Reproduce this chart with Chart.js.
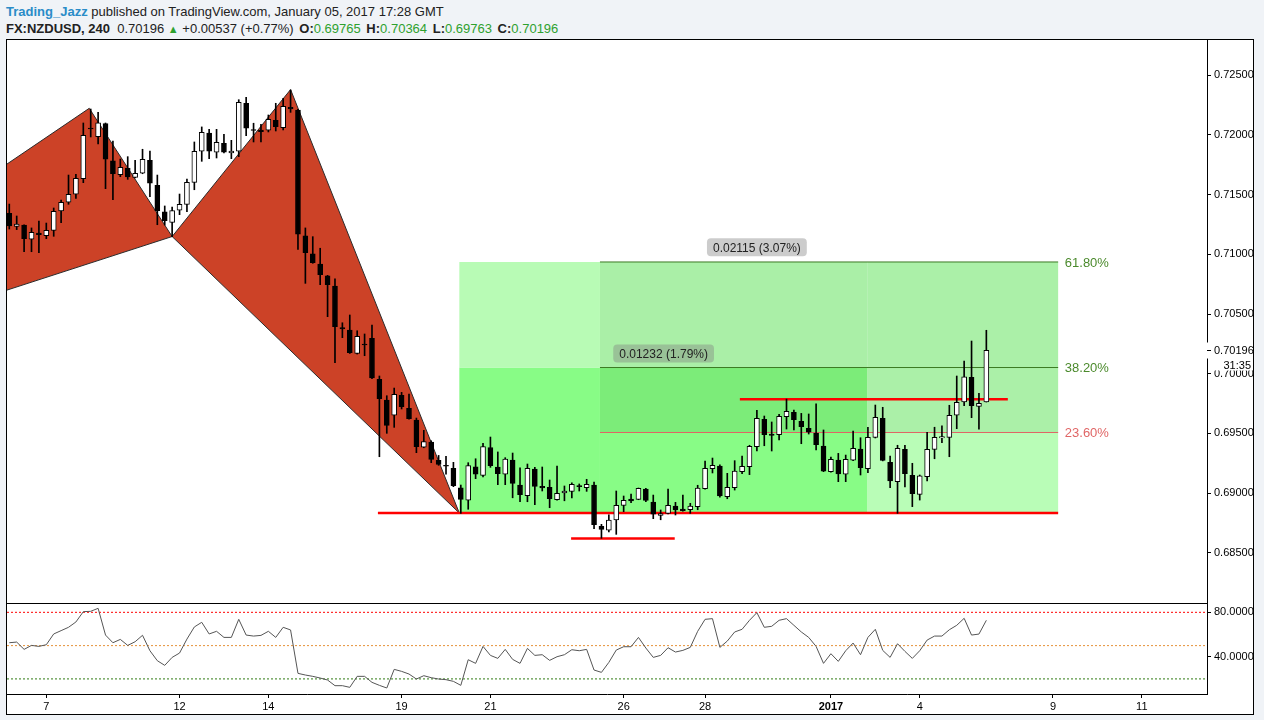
<!DOCTYPE html>
<html>
<head>
<meta charset="utf-8">
<title>FX:NZDUSD, 240</title>
<script src="https://cdn.jsdelivr.net/npm/chart.js@4.4.0/dist/chart.umd.min.js"></script>
<style>
    body {
        margin: 0;
        width: 1264px;
        height: 720px;
        overflow: hidden;
        background: #f0f3f7;
        font-family: 'Liberation Sans', Arial, sans-serif;
    }
    .head-line {
        position: absolute;
        left: 6px;
        font-size: 13px;
        color: #222;
        white-space: nowrap;
    }
    #headTop { top: 4px; }
    #headInfo { top: 21px; }
    .user { color: #2a8cc8; font-weight: bold; }
    .up { color: #2ea12e; }
    .tri { font-size: 11px; }
    .ohlc { margin-left: 2px; }
    #frame {
        position: absolute;
        left: 6px;
        top: 39px;
        width: 1246px;
        height: 674px;
        border: 1px solid #000;
        background: #fff;
    }
</style>
</head>
<body>
<div class="head-line" id="headTop"><span class="user">Trading_Jazz</span> published on TradingView.com, January 05, 2017 17:28 GMT</div>
<div class="head-line" id="headInfo"><b>FX:NZDUSD, 240</b>&nbsp; 0.70196 <span class="up tri">&#9650;</span> +0.00537 (+0.77%) <b class="ohlc">O:</b><span class="up">0.69765</span> <b class="ohlc">H:</b><span class="up">0.70364</span> <b class="ohlc">L:</b><span class="up">0.69763</span> <b class="ohlc">C:</b><span class="up">0.70196</span></div>
<div id="frame"><canvas id="priceChart" width="1246" height="674"></canvas></div>

<script>
// 4h bars, first visible bar sits 5 bars before the "7" (Dec 7) label
const FIRST_BAR = -5;

const openPrices = [
    0.71343, 0.71234, 0.71245, 0.71126, 0.71179, 0.71156, 0.71201, 0.71363, 0.71436, 0.71503,
    0.71633, 0.72058, 0.71985, 0.72094, 0.71784, 0.71667, 0.71723, 0.71645, 0.71679, 0.71788,
    0.71578, 0.71355, 0.71268, 0.71369, 0.71419, 0.71603, 0.71863, 0.72016, 0.71855, 0.71930,
    0.71849, 0.71865, 0.72265, 0.72041, 0.72041, 0.72039, 0.72123, 0.72061, 0.72231, 0.72209,
    0.71154, 0.71005, 0.70919, 0.70819, 0.70735, 0.70386, 0.70366, 0.70171, 0.70249, 0.70297,
    0.69953, 0.69780, 0.69654, 0.69819, 0.69711, 0.69612, 0.69384, 0.69428, 0.69275, 0.69233,
    0.69208, 0.69045, 0.68942, 0.69221, 0.69149, 0.69382, 0.69219, 0.69158, 0.69277, 0.69068,
    0.68979, 0.69202, 0.69057, 0.69049, 0.68945, 0.69001, 0.69015, 0.69062, 0.69045, 0.69068,
    0.68722, 0.68689, 0.68775, 0.68898, 0.68951, 0.68948, 0.69035, 0.68926, 0.68814, 0.68831,
    0.68892, 0.68867, 0.68861, 0.68887, 0.69037, 0.69205, 0.69227, 0.68970, 0.69045, 0.69179,
    0.69221, 0.69389, 0.69618, 0.69495, 0.69489, 0.69640, 0.69677, 0.69602, 0.69543, 0.69504,
    0.69395, 0.69179, 0.69277, 0.69158, 0.69277, 0.69370, 0.69205, 0.69467, 0.69627, 0.69258,
    0.69096, 0.69367, 0.69149, 0.68990, 0.69138, 0.69367, 0.69462, 0.69467, 0.69652, 0.69763,
    0.69970, 0.69727, 0.69765
];
const highPrices = [
    0.71421, 0.71321, 0.71248, 0.71221, 0.71279, 0.71262, 0.71388, 0.71455, 0.71664, 0.71670,
    0.72100, 0.72217, 0.72189, 0.72100, 0.71949, 0.71798, 0.71818, 0.71788, 0.71880, 0.71865,
    0.71664, 0.71405, 0.71396, 0.71505, 0.71631, 0.71941, 0.72067, 0.72047, 0.72047, 0.72005,
    0.71955, 0.72295, 0.72315, 0.72098, 0.72089, 0.72167, 0.72265, 0.72307, 0.72376, 0.72215,
    0.71221, 0.71148, 0.71051, 0.70824, 0.70794, 0.70427, 0.70492, 0.70360, 0.70333, 0.70408,
    0.69981, 0.69816, 0.69880, 0.69844, 0.69830, 0.69629, 0.69526, 0.69439, 0.69316, 0.69308,
    0.69258, 0.69068, 0.69255, 0.69288, 0.69417, 0.69470, 0.69345, 0.69297, 0.69336, 0.69213,
    0.69244, 0.69216, 0.69219, 0.69110, 0.69227, 0.69060, 0.69087, 0.69077, 0.69116, 0.69093,
    0.68739, 0.68819, 0.69018, 0.68976, 0.68993, 0.69043, 0.69040, 0.68984, 0.68859, 0.69035,
    0.68923, 0.68984, 0.68915, 0.69066, 0.69269, 0.69294, 0.69238, 0.69166, 0.69272, 0.69311,
    0.69401, 0.69694, 0.69646, 0.69596, 0.69660, 0.69788, 0.69696, 0.69668, 0.69663, 0.69747,
    0.69529, 0.69303, 0.69333, 0.69319, 0.69520, 0.69464, 0.69552, 0.69738, 0.69719, 0.69311,
    0.69401, 0.69401, 0.69250, 0.69152, 0.69510, 0.69552, 0.69563, 0.69736, 0.69981, 0.70107,
    0.70274, 0.69836, 0.70364
];
const lowPrices = [
    0.71212, 0.71207, 0.71022, 0.71022, 0.71014, 0.71131, 0.71151, 0.71265, 0.71419, 0.71469,
    0.71600, 0.71983, 0.71924, 0.71550, 0.71457, 0.71650, 0.71628, 0.71640, 0.71675, 0.71483,
    0.71248, 0.71245, 0.71148, 0.71332, 0.71357, 0.71541, 0.71779, 0.71801, 0.71807, 0.71849,
    0.71801, 0.71818, 0.71994, 0.71941, 0.71941, 0.72025, 0.72033, 0.72041, 0.72189, 0.71042,
    0.70757, 0.70925, 0.70746, 0.70478, 0.70092, 0.70302, 0.70170, 0.70165, 0.70151, 0.69958,
    0.69305, 0.69501, 0.69551, 0.69705, 0.69620, 0.69339, 0.69380, 0.69255, 0.69233, 0.69158,
    0.69054, 0.68831, 0.68865, 0.69121, 0.69135, 0.69216, 0.69071, 0.69071, 0.68961, 0.68928,
    0.68928, 0.68903, 0.69018, 0.68878, 0.68942, 0.68936, 0.68961, 0.69018, 0.69015, 0.68702,
    0.68622, 0.68675, 0.68655, 0.68845, 0.68920, 0.68945, 0.68928, 0.68786, 0.68777, 0.68825,
    0.68817, 0.68850, 0.68831, 0.68861, 0.69033, 0.69169, 0.68967, 0.68953, 0.69026, 0.69163,
    0.69155, 0.69353, 0.69397, 0.69353, 0.69445, 0.69537, 0.69529, 0.69414, 0.69495, 0.69361,
    0.69180, 0.69175, 0.69096, 0.69096, 0.69272, 0.69152, 0.69171, 0.69462, 0.69270, 0.69045,
    0.68831, 0.69052, 0.68887, 0.68942, 0.69102, 0.69288, 0.69422, 0.69305, 0.69540, 0.69732,
    0.69632, 0.69535, 0.69763
];
const closePrices = [
    0.71239, 0.71253, 0.71131, 0.71185, 0.71165, 0.71201, 0.71360, 0.71436, 0.71503, 0.71636,
    0.71996, 0.72050, 0.72102, 0.71796, 0.71675, 0.71729, 0.71648, 0.71679, 0.71796, 0.71595,
    0.71366, 0.71282, 0.71366, 0.71419, 0.71603, 0.71863, 0.72022, 0.71863, 0.71938, 0.71855,
    0.71865, 0.72273, 0.72056, 0.72037, 0.72027, 0.72131, 0.72069, 0.72240, 0.72217, 0.71168,
    0.71014, 0.70930, 0.70830, 0.70746, 0.70394, 0.70375, 0.70176, 0.70313, 0.70241, 0.69964,
    0.69791, 0.69568, 0.69828, 0.69724, 0.69623, 0.69389, 0.69431, 0.69283, 0.69241, 0.69225,
    0.69062, 0.68948, 0.69230, 0.69158, 0.69389, 0.69231, 0.69164, 0.69286, 0.69082, 0.68987,
    0.69208, 0.69057, 0.69043, 0.68953, 0.68998, 0.69018, 0.69074, 0.69054, 0.69074, 0.68736,
    0.68697, 0.68775, 0.68898, 0.68940, 0.68934, 0.69040, 0.68940, 0.68823, 0.68828, 0.68898,
    0.68859, 0.68853, 0.68892, 0.69043, 0.69208, 0.69233, 0.68976, 0.69049, 0.69185, 0.69225,
    0.69392, 0.69627, 0.69489, 0.69484, 0.69644, 0.69685, 0.69615, 0.69556, 0.69510, 0.69405,
    0.69185, 0.69283, 0.69160, 0.69283, 0.69375, 0.69213, 0.69467, 0.69635, 0.69275, 0.69102,
    0.69375, 0.69163, 0.68995, 0.69144, 0.69367, 0.69467, 0.69473, 0.69652, 0.69761, 0.69975,
    0.69732, 0.69752, 0.70196
];
const rsiValues = [
    52.6, 53.2, 46.6, 50.2, 49.3, 50.8, 60.5, 63.5, 66.5, 71.3,
    80.6, 80.9, 83.6, 59.5, 52.6, 55.6, 50.2, 53.5, 59.3, 45.4,
    36.4, 32.2, 39.4, 43.3, 55.9, 66.8, 71.0, 60.5, 62.9, 57.4,
    57.4, 73.7, 59.5, 58.6, 59.2, 62.9, 57.4, 66.5, 64.1, 25.0,
    23.5, 22.3, 20.8, 19.0, 13.9, 13.9, 12.4, 22.3, 22.3, 16.9,
    14.2, 11.8, 28.6, 26.8, 24.4, 19.9, 22.9, 21.1, 19.9, 19.3,
    17.8, 14.2, 37.3, 34.0, 49.3, 41.2, 38.5, 46.6, 37.6, 34.0,
    47.5, 41.2, 41.8, 36.7, 40.0, 41.8, 46.3, 45.4, 46.6, 28.0,
    25.9, 34.9, 46.0, 49.0, 49.0, 57.4, 47.8, 39.4, 41.2, 48.1,
    44.2, 45.7, 48.4, 62.9, 73.7, 74.3, 48.4, 54.1, 62.3, 64.7,
    72.8, 79.7, 66.5, 67.4, 72.8, 74.3, 68.3, 62.3, 57.4, 49.3,
    34.0, 42.7, 35.8, 45.4, 52.3, 41.8, 57.4, 64.7, 45.7, 39.4,
    51.7, 44.8, 38.5, 45.4, 55.0, 58.6, 58.6, 64.3, 68.3, 74.6,
    59.5, 60.4, 72.8
];

// x axis day labels (bar index where each trading day starts)
const dayTickBars = [0, 18, 30, 48, 60, 78, 89, 106, 118, 136, 148];
const dayTickLabels = ['7', '12', '14', '19', '21', '26', '28', '2017', '4', '9', '11'];
const priceTicks = [0.685, 0.690, 0.695, 0.700, 0.705, 0.710, 0.715, 0.720, 0.725];
const rsiTicks = [40, 80];
const rsiLevels = [80, 50, 20];

// harmonic pattern points X, A, B, C, D (X lies left of the view)
const patternBars = [-53.5, 5.8, 17, 33, 55.8];
const patternPrices = [0.69732, 0.72223, 0.71149, 0.72380, 0.68833];

// green zones
const zoneFrom = [55.8, 55.8, 74.8, 74.8, 74.8, 110.9, 110.9];
const zoneTo = [74.8, 74.8, 110.9, 110.9, 110.9, 136.7, 136.7];
const zoneLow = [0.70052, 0.68833, 0.70052, 0.69508, 0.68833, 0.69508, 0.68833];
const zoneHigh = [0.70936, 0.70052, 0.70936, 0.70052, 0.69508, 0.70936, 0.69508];

// fib levels
const fibLevels = [0.70936, 0.70052, 0.69508];
const fibLabels = ['61.80%', '38.20%', '23.60%'];
const fibFrom = 74.8;
const fibTo = 136.7;
const fibLabelBar = 137.6;

// red horizontal levels
const levelFrom = [44.8, 70.9, 93.7];
const levelTo = [136.7, 84.9, 129.9];
const levelPrices = [0.68833, 0.68621, 0.69786];

// price range labels
const measureTexts = ['0.02115 (3.07%)', '0.01232 (1.79%)'];
const measureBars = [96.0, 83.4];
const measurePrices = [0.71059, 0.70169];

const lastPrice = 0.70196;
const countdownText = '31:35';

// view range
const X_MIN = -5.31;
const X_MAX = 156.81;
const PRICE_MIN = 0.68080;
const PRICE_MAX = 0.72795;
const RSI_MIN = 6.4;
const RSI_MAX = 88.4;

// styles
const zoneColors = ['#b8fbb5', '#88fc86', '#aaefa7', '#7cec79', '#88fc86', '#abf0a8', '#b9fdb7'];
const fibColors = ['#3b7a22', '#3b7a22', '#e06666'];
const rsiLevelColors = ['#ff0000', '#e69138', '#2f7a12'];
const AXIS_FONT = { family: "'Liberation Sans', Arial, sans-serif", size: 11 };

const barIndex = openPrices.map((_, i) => FIRST_BAR + i);

function polygon(points, color, order) {
    return {
        type: 'line',
        yAxisID: 'y',
        order: order,
        data: points,
        fill: 'shape',
        backgroundColor: color,
        borderColor: 'transparent',
        borderWidth: 0,
        pointRadius: 0
    };
}

function buildDatasets() {
    const datasets = [];

    // zones
    zoneFrom.forEach((from, i) => {
        datasets.push(polygon([
            { x: from, y: zoneLow[i] },
            { x: zoneTo[i], y: zoneLow[i] },
            { x: zoneTo[i], y: zoneHigh[i] },
            { x: from, y: zoneHigh[i] }
        ], zoneColors[i], 20));
    });

    // XAB and BCD triangles
    [[0, 1, 2], [2, 3, 4]].forEach(tri => {
        const pts = tri.map(j => ({ x: patternBars[j], y: patternPrices[j] }));
        pts.push(pts[0]);
        const ds = polygon(pts, '#cc4227', 19);
        ds.borderColor = '#2b2b2b';
        ds.borderWidth = 1;
        datasets.push(ds);
    });

    // fib lines
    fibLevels.forEach((lvl, i) => {
        datasets.push({
            type: 'line', yAxisID: 'y', order: 15,
            data: [{ x: fibFrom, y: lvl }, { x: fibTo, y: lvl }],
            borderColor: fibColors[i], borderWidth: 1, pointRadius: 0, fill: false
        });
    });

    // red levels
    levelPrices.forEach((lvl, i) => {
        datasets.push({
            type: 'line', yAxisID: 'y', order: 14,
            data: [{ x: levelFrom[i], y: lvl }, { x: levelTo[i], y: lvl }],
            borderColor: '#ff0000', borderWidth: 2.5, pointRadius: 0, fill: false
        });
    });

    // wicks
    datasets.push({
        type: 'bar', yAxisID: 'y', order: 4, grouped: false,
        barThickness: 1,
        data: barIndex.map((k, i) => ({ x: k, y: [lowPrices[i], highPrices[i]] })),
        backgroundColor: '#000',
        borderWidth: 0
    });

    // bodies
    datasets.push({
        type: 'bar', yAxisID: 'y', order: 3, grouped: false,
        barThickness: 5,
        minBarLength: 1,
        data: barIndex.map((k, i) => ({
            x: k,
            y: [Math.min(openPrices[i], closePrices[i]), Math.max(openPrices[i], closePrices[i])]
        })),
        backgroundColor: barIndex.map((k, i) => closePrices[i] >= openPrices[i] ? '#ffffff' : '#000000'),
        borderColor: '#000',
        borderWidth: 1,
        borderSkipped: false
    });

    // RSI levels
    rsiLevels.forEach((lvl, i) => {
        datasets.push({
            type: 'line', yAxisID: 'yr', order: 2,
            data: [{ x: X_MIN, y: lvl }, { x: X_MAX, y: lvl }],
            borderColor: rsiLevelColors[i], borderWidth: 1, borderDash: [2, 2],
            pointRadius: 0, fill: false
        });
    });

    // RSI
    datasets.push({
        type: 'line', yAxisID: 'yr', order: 1,
        data: barIndex.map((k, i) => ({ x: k, y: rsiValues[i] })),
        borderColor: '#555555', borderWidth: 1, pointRadius: 0, fill: false, tension: 0
    });

    return datasets;
}

// Draws pane divider, text labels and the last price marker
const overlayPlugin = {
    id: 'overlay',
    afterDatasetsDraw(chart) {
        const { ctx, chartArea, scales } = chart;
        const x = scales.x, y = scales.y, yr = scales.yr;
        ctx.save();

        // pane divider
        ctx.strokeStyle = '#000';
        ctx.lineWidth = 1;
        const dy = Math.round(yr.top) + 0.5;
        ctx.beginPath();
        ctx.moveTo(chartArea.left, dy);
        ctx.lineTo(chartArea.right, dy);
        ctx.stroke();

        // fib labels
        ctx.font = "13px 'Liberation Sans', Arial, sans-serif";
        ctx.textBaseline = 'middle';
        ctx.textAlign = 'left';
        fibLevels.forEach((lvl, i) => {
            ctx.fillStyle = i === 2 ? '#e06666' : '#4b8a2c';
            ctx.fillText(fibLabels[i], x.getPixelForValue(fibLabelBar), y.getPixelForValue(lvl) + 1);
        });

        // price range labels
        ctx.font = "12px 'Liberation Sans', Arial, sans-serif";
        ctx.textAlign = 'center';
        measureTexts.forEach((txt, i) => {
            const cx = x.getPixelForValue(measureBars[i]);
            const cy = y.getPixelForValue(measurePrices[i]);
            const w = ctx.measureText(txt).width + 12;
            ctx.fillStyle = 'rgba(128,128,128,0.4)';
            ctx.beginPath();
            ctx.roundRect(cx - w / 2, cy - 9, w, 18, 4);
            ctx.fill();
            ctx.fillStyle = '#222';
            ctx.fillText(txt, cx, cy + 1);
        });

        ctx.restore();
    },
    afterDraw(chart) {
        const { ctx, scales } = chart;
        const y = scales.y;
        const py = Math.round(y.getPixelForValue(lastPrice)) + 0.5;
        ctx.save();
        ctx.fillStyle = '#fff';
        ctx.fillRect(y.left - 1, py - 8, chart.width - y.left + 1, 16);
        ctx.strokeStyle = '#000';
        ctx.lineWidth = 1;
        ctx.beginPath();
        ctx.moveTo(y.left, py);
        ctx.lineTo(y.left + 4, py);
        ctx.stroke();
        ctx.font = "11px 'Liberation Sans', Arial, sans-serif";
        ctx.fillStyle = '#000';
        ctx.textBaseline = 'middle';
        ctx.textAlign = 'left';
        ctx.fillText(lastPrice.toFixed(5), y.left + 7, py);
        // bar countdown
        ctx.fillStyle = '#fff';
        ctx.fillRect(y.left + 1, py + 9, chart.width - y.left - 1, 11);
        ctx.fillStyle = '#000';
        ctx.textAlign = 'right';
        ctx.fillText(countdownText, chart.width - 2, py + 15);
        ctx.restore();
    }
};

function createPriceChart() {
    const ctx = document.getElementById('priceChart').getContext('2d');

    const noPadding = scale => {
        scale.paddingTop = 0;
        scale.paddingBottom = 0;
        scale.paddingLeft = 0;
        scale.paddingRight = 0;
    };

    window.priceChart = new Chart(ctx, {
        type: 'bar',
        data: { datasets: buildDatasets() },
        options: {
            responsive: false,
            animation: false,
            layout: { padding: 0 },
            events: [],
            plugins: {
                legend: { display: false },
                tooltip: { enabled: false }
            },
            scales: {
                x: {
                    type: 'linear',
                    min: X_MIN,
                    max: X_MAX,
                    offset: false,
                    grid: { display: true, drawOnChartArea: false, drawTicks: true, tickLength: 4, color: '#000', offset: false },
                    border: { display: true, color: '#000' },
                    ticks: {
                        autoSkip: false,
                        maxRotation: 0,
                        padding: 2,
                        color: '#000',
                        font: c => ({
                            family: AXIS_FONT.family,
                            size: 11,
                            weight: c.tick && c.tick.label === '2017' ? 'bold' : 'normal'
                        }),
                        callback: value => dayTickLabels[dayTickBars.indexOf(value)]
                    },
                    afterBuildTicks: scale => {
                        scale.ticks = dayTickBars.map(v => ({ value: v }));
                    },
                    afterFit: scale => {
                        scale.height = 20;
                        noPadding(scale);
                    }
                },
                y: {
                    type: 'linear',
                    position: 'right',
                    stack: 'panes',
                    stackWeight: 563,
                    min: PRICE_MIN,
                    max: PRICE_MAX,
                    grid: { display: true, drawOnChartArea: false, drawTicks: true, tickLength: 4, color: '#000' },
                    border: { display: true, color: '#000' },
                    ticks: {
                        color: '#000',
                        font: AXIS_FONT,
                        padding: 3,
                        callback: value => value.toFixed(5)
                    },
                    afterBuildTicks: scale => {
                        scale.ticks = priceTicks.map(v => ({ value: v }));
                    },
                    afterFit: scale => {
                        scale.width = 46;
                        noPadding(scale);
                    }
                },
                yr: {
                    type: 'linear',
                    position: 'right',
                    stack: 'panes',
                    stackWeight: 91,
                    min: RSI_MIN,
                    max: RSI_MAX,
                    grid: { display: true, drawOnChartArea: false, drawTicks: true, tickLength: 4, color: '#000' },
                    border: { display: true, color: '#000' },
                    ticks: {
                        color: '#000',
                        font: AXIS_FONT,
                        padding: 3,
                        callback: value => value.toFixed(4)
                    },
                    afterBuildTicks: scale => {
                        scale.ticks = rsiTicks.map(v => ({ value: v }));
                    },
                    afterFit: scale => {
                        scale.width = 46;
                        noPadding(scale);
                    }
                }
            }
        },
        plugins: [overlayPlugin]
    });
}

window.addEventListener('load', function () {
    createPriceChart();
});
</script>
</body>
</html>
